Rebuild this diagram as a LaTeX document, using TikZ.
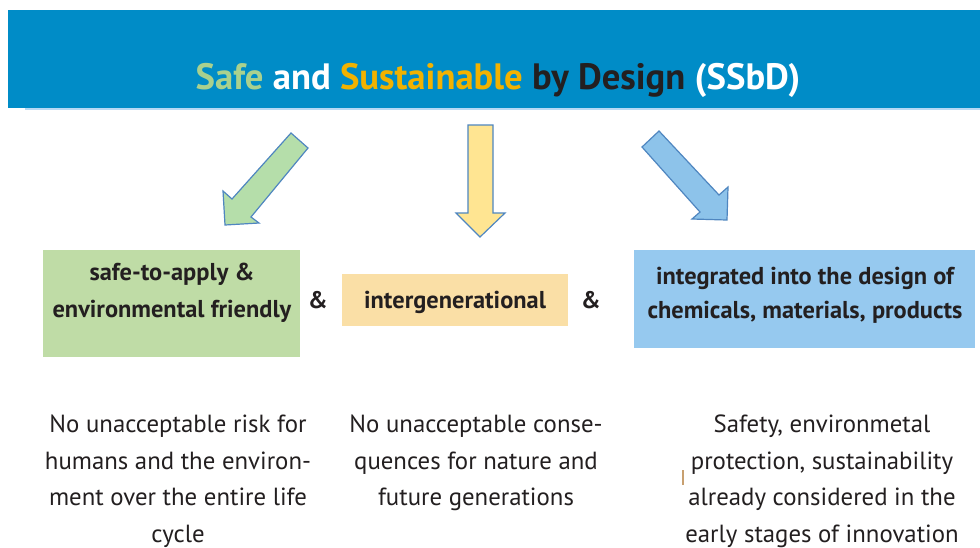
\documentclass[tikz,border=0pt]{standalone}
\usepackage{fontspec}
\setmainfont{PT Sans}
\definecolor{banner}{HTML}{008CC7}
\definecolor{ttlgreen}{HTML}{A9D18E}
\definecolor{ttlgold}{HTML}{F2B200}
\definecolor{ink}{HTML}{231F20}
\definecolor{boxgreen}{HTML}{BFDCA6}
\definecolor{boxyellow}{HTML}{FADFA6}
\definecolor{boxblue}{HTML}{96C9EF}
\definecolor{arrgreen}{HTML}{B5DEAA}
\definecolor{arryellow}{HTML}{FFE592}
\definecolor{arrblue}{HTML}{8DC3EA}
\definecolor{arredge}{HTML}{4F86C0}
\definecolor{tick}{HTML}{C8A070}
\tikzset{
  fatarrow/.style={draw=arredge, line width=0.9pt, line join=miter},
  pillartext/.style={font=\bfseries\fontsize{18.3}{27.5}\selectfont, text=ink, align=center},
  amp/.style={font=\bfseries\fontsize{18}{20}\selectfont, text=ink},
  detail/.style={font=\fontsize{18.6}{27.5}\selectfont, text=ink, align=center, anchor=north}
}
\begin{document}
\begin{tikzpicture}[x=0.75pt, y=-0.75pt]
\useasboundingbox (0,0) rectangle (980,547);
\fill[white] (0,0) rectangle (980,547);

% title banner
\fill[banner] (8,10) rectangle (980,108);
\draw[boxblue!70, line width=1.2pt] (25,109) -- (980,109);
\node[font=\bfseries\fontsize{27.5}{30}\selectfont] (title) at (498,80)
  {\textcolor{ttlgreen}{Safe} \textcolor{white}{and} \textcolor{ttlgold}{Sustainable} \textcolor{ink}{by Design} \textcolor{white}{(SSbD)}};

% three block arrows
\filldraw[fatarrow, fill=arrgreen]
  (291,133) -- (308,148) -- (251,217) -- (259,223) -- (225,225) -- (223,191) -- (232,199) -- cycle;
\filldraw[fatarrow, fill=arryellow]
  (468,125) -- (493,125) -- (493,213) -- (505,213) -- (480,237) -- (456,213) -- (468,213) -- cycle;
\filldraw[fatarrow, fill=arrblue]
  (642,147) -- (659,131) -- (719,195) -- (728,187) -- (727,220) -- (692,219) -- (700,212) -- cycle;

% the three pillars
\fill[boxgreen] (43,250) rectangle (300,357);
\node[pillartext] (safe) at (172,293) {safe-to-apply \&\\environmental friendly};
\node[amp] (amp1) at (318,300) {\&};
\fill[boxyellow] (342,274) rectangle (568,326);
\node[pillartext] (inter) at (455,302) {intergenerational};
\node[amp] (amp2) at (591,300) {\&};
\fill[boxblue] (634,250) rectangle (975,348);
\node[pillartext, font=\bfseries\fontsize{18.3}{25.5}\selectfont] (design) at (805,295) {integrated into the design of\\chemicals, materials, products};

% explanations
\node[detail] (d1) at (178,410) {No unacceptable risk for\\humans and the environ-\\ment over the entire life\\cycle};
\node[detail] (d2) at (476,410) {No unacceptable conse-\\quences for nature and\\future generations};
\node[detail] (d3) at (822,410) {Safety, environmetal\\protection, sustainability\\already considered in the\\early stages of innovation};
\draw[tick, line width=0.8pt] (683,470) -- (683,485);
\end{tikzpicture}
\end{document}
